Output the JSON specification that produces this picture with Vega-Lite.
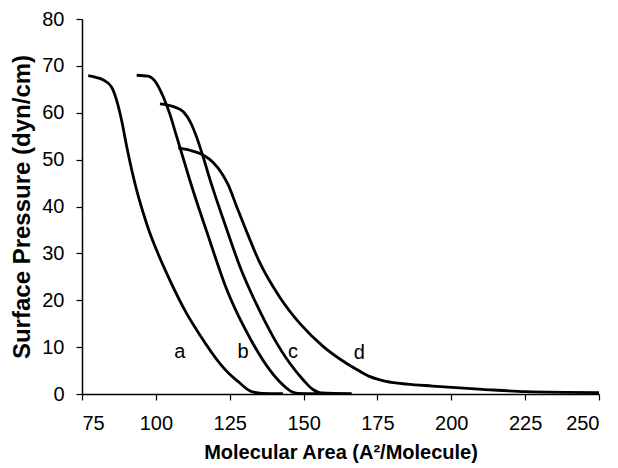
{
  "$schema": "https://vega.github.io/schema/vega-lite/v6.json",
  "width": 517,
  "height": 375,
  "autosize": {"type": "none"},
  "padding": {"left": 82, "top": 19, "right": 19, "bottom": 74},
  "background": "white",
  "config": {
    "view": {"stroke": null},
    "font": "Liberation Sans",
    "axis": {
      "grid": false,
      "domainColor": "black",
      "domainWidth": 1.5,
      "tickColor": "black",
      "tickWidth": 1.2,
      "tickSize": 6,
      "labelFont": "Liberation Sans",
      "labelFontSize": 20,
      "labelColor": "black",
      "titleFont": "Liberation Sans",
      "titleFontWeight": "bold",
      "titleColor": "black"
    }
  },
  "datasets": {
    "curves": [
      {"curve": "a", "area": 77.1, "pressure": 67.9},
      {"curve": "a", "area": 80.0, "pressure": 67.5},
      {"curve": "a", "area": 82.2, "pressure": 67.0},
      {"curve": "a", "area": 85.0, "pressure": 65.5},
      {"curve": "a", "area": 86.7, "pressure": 62.7},
      {"curve": "a", "area": 88.4, "pressure": 58.4},
      {"curve": "a", "area": 90.1, "pressure": 52.9},
      {"curve": "a", "area": 91.8, "pressure": 47.9},
      {"curve": "a", "area": 93.5, "pressure": 43.5},
      {"curve": "a", "area": 95.5, "pressure": 39.1},
      {"curve": "a", "area": 97.6, "pressure": 35.0},
      {"curve": "a", "area": 100.3, "pressure": 30.6},
      {"curve": "a", "area": 104.8, "pressure": 24.2},
      {"curve": "a", "area": 110.4, "pressure": 17.2},
      {"curve": "a", "area": 114.9, "pressure": 12.6},
      {"curve": "a", "area": 121.7, "pressure": 6.5},
      {"curve": "a", "area": 125.0, "pressure": 4.2},
      {"curve": "a", "area": 128.5, "pressure": 2.3},
      {"curve": "a", "area": 131.0, "pressure": 1.0},
      {"curve": "a", "area": 133.0, "pressure": 0.4},
      {"curve": "a", "area": 136.0, "pressure": 0.15},
      {"curve": "a", "area": 143.0, "pressure": 0.1},
      {"curve": "b", "area": 93.5, "pressure": 68.0},
      {"curve": "b", "area": 97.4, "pressure": 67.8},
      {"curve": "b", "area": 100.3, "pressure": 66.2},
      {"curve": "b", "area": 102.5, "pressure": 63.4},
      {"curve": "b", "area": 104.8, "pressure": 59.6},
      {"curve": "b", "area": 107.0, "pressure": 55.0},
      {"curve": "b", "area": 109.3, "pressure": 50.2},
      {"curve": "b", "area": 111.5, "pressure": 45.6},
      {"curve": "b", "area": 114.3, "pressure": 40.1},
      {"curve": "b", "area": 117.3, "pressure": 34.5},
      {"curve": "b", "area": 120.0, "pressure": 29.4},
      {"curve": "b", "area": 123.5, "pressure": 23.1},
      {"curve": "b", "area": 127.4, "pressure": 17.4},
      {"curve": "b", "area": 130.5, "pressure": 13.5},
      {"curve": "b", "area": 133.0, "pressure": 10.6},
      {"curve": "b", "area": 138.6, "pressure": 5.1},
      {"curve": "b", "area": 143.1, "pressure": 1.9},
      {"curve": "b", "area": 146.0, "pressure": 0.5},
      {"curve": "b", "area": 148.0, "pressure": 0.15},
      {"curve": "b", "area": 155.0, "pressure": 0.1},
      {"curve": "c", "area": 101.4, "pressure": 61.9},
      {"curve": "c", "area": 105.9, "pressure": 61.3},
      {"curve": "c", "area": 109.3, "pressure": 60.2},
      {"curve": "c", "area": 112.0, "pressure": 57.6},
      {"curve": "c", "area": 113.8, "pressure": 54.8},
      {"curve": "c", "area": 116.0, "pressure": 50.6},
      {"curve": "c", "area": 118.3, "pressure": 45.8},
      {"curve": "c", "area": 121.1, "pressure": 40.4},
      {"curve": "c", "area": 124.0, "pressure": 35.1},
      {"curve": "c", "area": 128.5, "pressure": 27.1},
      {"curve": "c", "area": 134.1, "pressure": 19.1},
      {"curve": "c", "area": 139.7, "pressure": 12.2},
      {"curve": "c", "area": 145.4, "pressure": 6.5},
      {"curve": "c", "area": 149.9, "pressure": 3.0},
      {"curve": "c", "area": 153.3, "pressure": 0.9},
      {"curve": "c", "area": 156.0, "pressure": 0.25},
      {"curve": "c", "area": 166.3, "pressure": 0.1},
      {"curve": "d", "area": 107.6, "pressure": 52.5},
      {"curve": "d", "area": 111.5, "pressure": 52.0},
      {"curve": "d", "area": 116.0, "pressure": 51.0},
      {"curve": "d", "area": 119.4, "pressure": 49.4},
      {"curve": "d", "area": 122.3, "pressure": 47.1},
      {"curve": "d", "area": 124.5, "pressure": 44.6},
      {"curve": "d", "area": 127.4, "pressure": 39.9},
      {"curve": "d", "area": 130.5, "pressure": 35.0},
      {"curve": "d", "area": 134.9, "pressure": 28.4},
      {"curve": "d", "area": 142.0, "pressure": 20.6},
      {"curve": "d", "area": 148.8, "pressure": 15.0},
      {"curve": "d", "area": 156.7, "pressure": 10.1},
      {"curve": "d", "area": 164.6, "pressure": 6.5},
      {"curve": "d", "area": 168.9, "pressure": 4.9},
      {"curve": "d", "area": 172.5, "pressure": 3.7},
      {"curve": "d", "area": 177.9, "pressure": 2.7},
      {"curve": "d", "area": 185.0, "pressure": 2.1},
      {"curve": "d", "area": 193.7, "pressure": 1.7},
      {"curve": "d", "area": 210.6, "pressure": 1.0},
      {"curve": "d", "area": 225.3, "pressure": 0.5},
      {"curve": "d", "area": 250.0, "pressure": 0.3}
    ],
    "labels": [
      {"label": "a", "area": 108.1, "pressure": 9.0},
      {"label": "b", "area": 129.5, "pressure": 9.0},
      {"label": "c", "area": 146.4, "pressure": 9.0},
      {"label": "d", "area": 168.9, "pressure": 8.7}
    ]
  },
  "layer": [
    {
      "data": {"name": "curves"},
      "mark": {"type": "line", "color": "black", "strokeWidth": 2.8, "interpolate": "monotone", "clip": true},
      "encoding": {
        "x": {
          "field": "area", "type": "quantitative",
          "scale": {"domain": [75, 250], "nice": false, "zero": false},
          "axis": {"values": [75, 100, 125, 150, 175, 200, 225, 250], "title": "Molecular Area (A²/Molecule)", "titleFontSize": 20, "labelPadding": 13, "titlePadding": 9}
        },
        "y": {
          "field": "pressure", "type": "quantitative",
          "scale": {"domain": [0, 80], "nice": false},
          "axis": {"values": [0, 10, 20, 30, 40, 50, 60, 70, 80], "title": "Surface Pressure (dyn/cm)", "titleFontSize": 24, "labelPadding": 12, "titlePadding": 7}
        },
        "detail": {"field": "curve"}
      }
    },
    {
      "data": {"name": "labels"},
      "mark": {"type": "text", "fontSize": 20, "font": "Liberation Sans", "color": "black", "baseline": "middle", "align": "center"},
      "encoding": {
        "x": {"field": "area", "type": "quantitative"},
        "y": {"field": "pressure", "type": "quantitative"},
        "text": {"field": "label"}
      }
    }
  ]
}
